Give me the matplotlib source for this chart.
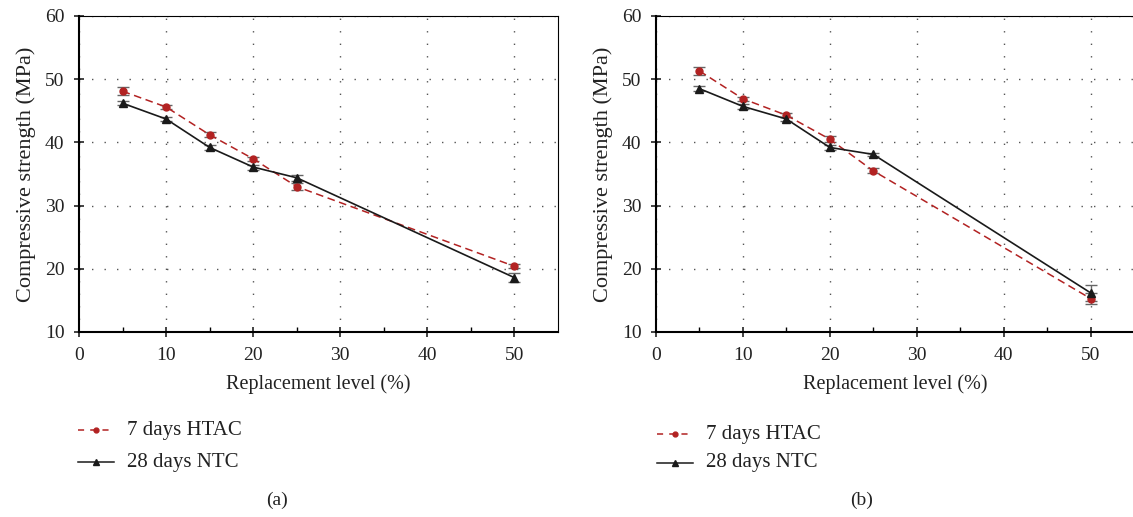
import matplotlib.pyplot as plt
from matplotlib.lines import Line2D

plt.rcParams['font.family'] = ['Liberation Serif', 'DejaVu Serif']

x = [5, 10, 15, 20, 25, 50]

# panel (a)
htac_a = [48.1, 45.6, 41.2, 37.4, 33.0, 20.4]
htac_a_err = [0.6, 0.3, 0.4, 0.3, 0.6, 0.3]
ntc_a = [46.2, 43.7, 39.2, 36.1, 34.4, 18.6]
ntc_a_err = [0.3, 0.3, 0.4, 0.4, 0.5, 0.7]

# panel (b)
htac_b = [51.3, 46.9, 44.3, 40.5, 35.5, 15.3]
htac_b_err = [0.6, 0.3, 0.3, 0.5, 0.4, 0.9]
ntc_b = [48.5, 45.7, 43.7, 39.2, 38.1, 16.2]
ntc_b_err = [0.4, 0.4, 0.3, 0.4, 0.2, 1.3]

labels = ["7 days HTAC", "28 days NTC"]

red = "#b22222"
dark = "#1a1a1a"
W, H = 1133, 517
fig = plt.figure(figsize=(W / 100, H / 100), dpi=100)

# (left px, right px, data..., tag, tag x px, legend line x px, legend y px)
panels = [
    (79, 558, htac_a, htac_a_err, ntc_a, ntc_a_err, "(a)", 277, 78, (430, 462)),
    (656, 1134, htac_b, htac_b_err, ntc_b, ntc_b_err, "(b)", 862, 657, (434, 463)),
]

for lpx, rpx, h, he, n, ne, tag, tagx, legx, legy in panels:
    ax = fig.add_axes([lpx / W, 1 - 332 / H, (rpx - lpx) / W, (332 - 16) / H])
    ax.errorbar(x, h, yerr=he, color=red, ls=(0, (5, 3)), lw=1.1, marker="o", ms=5,
                ecolor="#666666", elinewidth=1.0, capsize=4, capthick=1.0, zorder=3)
    ax.errorbar(x, n, yerr=ne, color=dark, ls="-", lw=1.2, marker="^", ms=5.5,
                ecolor="#666666", elinewidth=1.0, capsize=4, capthick=1.0, zorder=3)
    ax.set_xlim(0, 55)
    ax.set_ylim(10, 60)
    ax.set_xticks([0, 10, 20, 30, 40, 50])
    ax.set_xticks([5, 15, 25, 35, 45], minor=True)
    ax.set_yticks([10, 20, 30, 40, 50, 60])
    ax.grid(True, which="major", color="#555555", ls=(0, (1, 8)), lw=1.0)
    ax.tick_params(axis="both", which="major", direction="inout", length=7, width=1.2,
                   labelsize=14, colors="#222222")
    ax.tick_params(axis="x", which="minor", direction="in", length=3.5, width=1.0)
    ax.tick_params(axis="x", pad=7)
    ax.tick_params(axis="y", pad=7)
    for s in ["left", "bottom"]:
        ax.spines[s].set_linewidth(1.5)
    for s in ["top", "right"]:
        ax.spines[s].set_linewidth(0.8)
    ax.set_xlabel("Replacement level (%)", fontsize=14.5, color="#222222", labelpad=8)
    ax.set_ylabel("Compressive strength (MPa)", fontsize=16, color="#222222", labelpad=6)

    # legend drawn by hand below the axes
    x0, x1 = legx / W, (legx + 36) / W
    xm = (legx + 18) / W
    y1, y2 = 1 - legy[0] / H, 1 - legy[1] / H
    fig.lines.append(Line2D([x0, x1], [y1, y1], transform=fig.transFigure,
                            color=red, ls=(0, (4, 4)), lw=1.1))
    fig.lines.append(Line2D([xm], [y1], transform=fig.transFigure,
                            color=red, marker="o", ms=3.5, ls="none"))
    fig.lines.append(Line2D([x0, x1], [y2, y2], transform=fig.transFigure,
                            color=dark, ls="-", lw=1.1))
    fig.lines.append(Line2D([xm], [y2], transform=fig.transFigure,
                            color=dark, marker="^", ms=4, ls="none"))
    fig.text((legx + 49) / W, y1, labels[0], fontsize=15, color="#222222", va="center")
    fig.text((legx + 49) / W, y2, labels[1], fontsize=15, color="#222222", va="center")
    fig.text(tagx / W, 1 - 500 / H, tag, fontsize=14, color="#222222",
             ha="center", va="center")

fig.savefig("out.png", dpi=100)
